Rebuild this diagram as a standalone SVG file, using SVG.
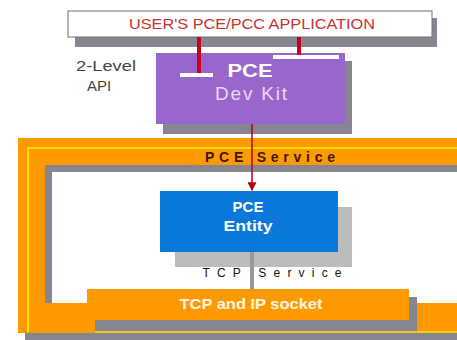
<svg xmlns="http://www.w3.org/2000/svg" width="457" height="340" viewBox="0 0 457 340">
  <style>
    .sans { font-family: "Liberation Sans", Arial, sans-serif; }
    .shadow { fill: #868692; }
    .plug { stroke: #c8001e; stroke-width: 4; }
    .bar { fill: #ffffff; }
  </style>
  <defs>
    <marker id="arrow" viewBox="0 0 8 8" refX="7" refY="4" markerWidth="6" markerHeight="6" orient="auto">
      <path d="M0,0 L8,4 L0,8 z" fill="#b00018"/>
    </marker>
  </defs>
  <rect width="457" height="340" fill="#ffffff"/>

  <!-- PCE service frame (open to the right) -->
  <g id="pce-service">
    <path class="shadow" fill-rule="evenodd" d="M25,145 H464 V340 H25 Z M52,172 H464 V310 H52 Z"/>
    <path fill="#ff9900" fill-rule="evenodd" d="M18,138 H464 V333 H18 Z M45,165 H464 V303 H45 Z"/>
    <path d="M457,148 H28 V332" fill="none" stroke="#ffdd00" stroke-width="2"/>
    <text class="sans" x="270" y="162" font-size="14" font-weight="bold" fill="#3a1a00" text-anchor="middle" textLength="130" lengthAdjust="spacing">PCE  Service</text>
  </g>

  <!-- TCP and IP socket -->
  <g id="socket">
    <rect class="shadow" x="95" y="297" width="322" height="35"/>
    <rect x="87" y="289" width="322" height="31" fill="#ff9900"/>
    <text class="sans" x="251" y="309" font-size="15" font-weight="bold" fill="#fff6e0" text-anchor="middle" textLength="143" lengthAdjust="spacingAndGlyphs">TCP and IP socket</text>
  </g>
  <path d="M95,332 H457" stroke="#ffdd00" stroke-width="1.5" fill="none"/>

  <!-- user application -->
  <g id="application">
    <rect class="shadow" x="75" y="18" width="362" height="29"/>
    <rect x="68" y="11" width="364" height="26" fill="#ffffff" stroke="#707070" stroke-width="1"/>
    <text class="sans" x="252" y="29" font-size="14" fill="#c83232" text-anchor="middle" textLength="246" lengthAdjust="spacingAndGlyphs">USER'S PCE/PCC APPLICATION</text>
  </g>

  <!-- PCE development kit -->
  <g id="dev-kit">
    <rect class="shadow" x="163" y="61" width="189" height="73"/>
    <rect x="156" y="53" width="189" height="71" fill="#9966cc"/>
    <text class="sans" x="250" y="77" font-size="19" font-weight="bold" fill="#ffffff" text-anchor="middle" textLength="45" lengthAdjust="spacingAndGlyphs">PCE</text>
    <text class="sans" x="251" y="100" font-size="19" fill="#ecd6f4" text-anchor="middle" textLength="72" lengthAdjust="spacing">Dev Kit</text>
  </g>

  <!-- PCE entity -->
  <g id="pce-entity">
    <rect x="175" y="207" width="177" height="60" fill="#bcbcbc"/>
    <rect x="160" y="191" width="178" height="61" fill="#0a78d8"/>
    <text class="sans" x="248" y="212" font-size="15" font-weight="bold" fill="#ffffff" text-anchor="middle">PCE</text>
    <text class="sans" x="248" y="231" font-size="15" font-weight="bold" fill="#ffffff" text-anchor="middle" textLength="49" lengthAdjust="spacingAndGlyphs">Entity</text>
  </g>

  <!-- API label -->
  <g id="api-label">
    <text class="sans" x="106" y="71" font-size="15" fill="#444444" text-anchor="middle" textLength="60" lengthAdjust="spacingAndGlyphs">2-Level</text>
    <text class="sans" x="99" y="91" font-size="15" fill="#444444" text-anchor="middle">API</text>
  </g>

  <!-- connectors -->
  <g id="connectors">
    <line class="plug" x1="199" y1="37" x2="199" y2="74"/>
    <rect class="bar" x="180" y="73" width="33" height="4"/>
    <line class="plug" x1="299" y1="37" x2="299" y2="56"/>
    <rect class="bar" x="273" y="55" width="66" height="4"/>
    <line x1="252" y1="124" x2="252" y2="190" stroke="#b00018" stroke-width="1.5" marker-end="url(#arrow)"/>
    <line x1="252" y1="252" x2="252" y2="289" stroke="#999999" stroke-width="4"/>
    <text class="sans" x="272" y="277" font-size="12" fill="#111111" text-anchor="middle" textLength="139" lengthAdjust="spacing">TCP  Service</text>
  </g>
</svg>
